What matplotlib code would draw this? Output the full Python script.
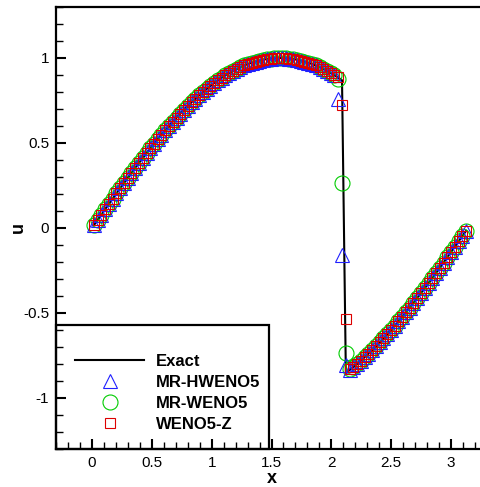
import matplotlib
matplotlib.use('Agg')
import matplotlib.pyplot as plt
from matplotlib.patches import Rectangle
from matplotlib.ticker import MultipleLocator, FuncFormatter

plt.rcParams['font.family'] = ['Liberation Sans', 'DejaVu Sans']
plt.rcParams['axes.unicode_minus'] = False

# cell centres
x = [0.016, 0.047, 0.079, 0.110, 0.141, 0.173, 0.204, 0.236, 0.267, 0.298,
     0.330, 0.361, 0.393, 0.424, 0.456, 0.487, 0.518, 0.550, 0.581, 0.613,
     0.644, 0.675, 0.707, 0.738, 0.770, 0.801, 0.833, 0.864, 0.895, 0.927,
     0.958, 0.990, 1.021, 1.052, 1.084, 1.115, 1.147, 1.178, 1.210, 1.241,
     1.272, 1.304, 1.335, 1.367, 1.398, 1.429, 1.461, 1.492, 1.524, 1.555,
     1.587, 1.618, 1.649, 1.681, 1.712, 1.744, 1.775, 1.806, 1.838, 1.869,
     1.901, 1.932, 1.963, 1.995, 2.026, 2.058, 2.089, 2.121, 2.152, 2.183,
     2.215, 2.246, 2.278, 2.309, 2.341, 2.372, 2.403, 2.435, 2.466, 2.498,
     2.529, 2.560, 2.592, 2.623, 2.655, 2.686, 2.717, 2.749, 2.780, 2.812,
     2.843, 2.874, 2.906, 2.937, 2.969, 3.000, 3.031, 3.063, 3.094, 3.126]

u_exact = [0.016, 0.047, 0.078, 0.110, 0.141, 0.172, 0.203, 0.233, 0.264, 0.294,
           0.324, 0.353, 0.383, 0.412, 0.440, 0.468, 0.495, 0.523, 0.549, 0.575,
           0.600, 0.625, 0.649, 0.673, 0.696, 0.718, 0.740, 0.760, 0.780, 0.800,
           0.818, 0.836, 0.853, 0.869, 0.884, 0.898, 0.911, 0.924, 0.935, 0.946,
           0.956, 0.965, 0.972, 0.979, 0.985, 0.990, 0.994, 0.997, 0.999, 1.000,
           1.000, 0.999, 0.997, 0.994, 0.990, 0.985, 0.979, 0.972, 0.965, 0.956,
           0.946, 0.935, 0.924, 0.911, 0.898, 0.884, 0.869, -0.853, -0.836, -0.818,
           -0.800, -0.780, -0.760, -0.740, -0.718, -0.696, -0.673, -0.649, -0.625, -0.600,
           -0.575, -0.549, -0.523, -0.495, -0.468, -0.440, -0.412, -0.383, -0.353, -0.324,
           -0.294, -0.264, -0.233, -0.203, -0.172, -0.141, -0.110, -0.078, -0.047, -0.016]

u_mrhweno5 = [0.016, 0.047, 0.078, 0.110, 0.141, 0.172, 0.203, 0.233, 0.264, 0.294,
              0.324, 0.353, 0.383, 0.412, 0.440, 0.468, 0.495, 0.523, 0.549, 0.575,
              0.600, 0.625, 0.649, 0.673, 0.696, 0.718, 0.740, 0.760, 0.780, 0.800,
              0.818, 0.836, 0.853, 0.869, 0.884, 0.898, 0.911, 0.924, 0.935, 0.946,
              0.956, 0.965, 0.972, 0.979, 0.985, 0.990, 0.994, 0.997, 0.999, 1.000,
              1.000, 0.999, 0.997, 0.994, 0.990, 0.985, 0.979, 0.972, 0.965, 0.956,
              0.946, 0.935, 0.924, 0.911, 0.898, 0.760, -0.160, -0.806, -0.836, -0.818,
              -0.800, -0.780, -0.760, -0.740, -0.718, -0.696, -0.673, -0.649, -0.625, -0.600,
              -0.575, -0.549, -0.523, -0.495, -0.468, -0.440, -0.412, -0.383, -0.353, -0.324,
              -0.294, -0.264, -0.233, -0.203, -0.172, -0.141, -0.110, -0.078, -0.047, -0.016]

u_mrweno5 = [0.016, 0.047, 0.078, 0.110, 0.141, 0.172, 0.203, 0.233, 0.264, 0.294,
             0.324, 0.353, 0.383, 0.412, 0.440, 0.468, 0.495, 0.523, 0.549, 0.575,
             0.600, 0.625, 0.649, 0.673, 0.696, 0.718, 0.740, 0.760, 0.780, 0.800,
             0.818, 0.836, 0.853, 0.869, 0.884, 0.898, 0.911, 0.924, 0.935, 0.946,
             0.956, 0.965, 0.972, 0.979, 0.985, 0.990, 0.994, 0.997, 0.999, 1.000,
             1.000, 0.999, 0.997, 0.994, 0.990, 0.985, 0.979, 0.972, 0.965, 0.956,
             0.946, 0.935, 0.924, 0.911, 0.898, 0.875, 0.267, -0.737, -0.830, -0.818,
             -0.800, -0.780, -0.760, -0.740, -0.718, -0.696, -0.673, -0.649, -0.625, -0.600,
             -0.575, -0.549, -0.523, -0.495, -0.468, -0.440, -0.412, -0.383, -0.353, -0.324,
             -0.294, -0.264, -0.233, -0.203, -0.172, -0.141, -0.110, -0.078, -0.047, -0.016]

u_weno5z = [0.016, 0.047, 0.078, 0.110, 0.141, 0.172, 0.203, 0.233, 0.264, 0.294,
            0.324, 0.353, 0.383, 0.412, 0.440, 0.468, 0.495, 0.523, 0.549, 0.575,
            0.600, 0.625, 0.649, 0.673, 0.696, 0.718, 0.740, 0.760, 0.780, 0.800,
            0.818, 0.836, 0.853, 0.869, 0.884, 0.898, 0.911, 0.924, 0.935, 0.946,
            0.956, 0.965, 0.972, 0.979, 0.985, 0.990, 0.994, 0.997, 0.999, 1.000,
            1.000, 0.999, 0.997, 0.994, 0.990, 0.985, 0.979, 0.972, 0.965, 0.956,
            0.946, 0.935, 0.924, 0.911, 0.898, 0.890, 0.725, -0.535, -0.832, -0.818,
            -0.800, -0.780, -0.760, -0.740, -0.718, -0.696, -0.673, -0.649, -0.625, -0.600,
            -0.575, -0.549, -0.523, -0.495, -0.468, -0.440, -0.412, -0.383, -0.353, -0.324,
            -0.294, -0.264, -0.233, -0.203, -0.172, -0.141, -0.110, -0.078, -0.047, -0.016]

labels = ['Exact', 'MR-HWENO5', 'MR-WENO5', 'WENO5-Z']

W, H = 480, 487
fig = plt.figure(figsize=(W / 100, H / 100), dpi=100)
ax = fig.add_axes([56 / W, 1 - 449 / H, 431 / W, 442 / H])

l0, = ax.plot(x, u_exact, color='black', lw=1.5, zorder=2, label=labels[0])
l2, = ax.plot(x, u_mrweno5, ls='none', marker='o', ms=10.8, mfc='none',
              mec='#00cc00', mew=0.8, zorder=3, label=labels[2])
l1, = ax.plot(x, u_mrhweno5, ls='none', marker='^', ms=9.6, mfc='none',
              mec='#2020ff', mew=0.8, zorder=4, label=labels[1])
l3, = ax.plot(x, u_weno5z, ls='none', marker='s', ms=7.9, mfc='none',
              mec='#dd0000', mew=0.8, zorder=5, label=labels[3])

ax.set_xlim(-0.3, 3.3)
ax.set_ylim(-1.3, 1.3)
ax.xaxis.set_major_locator(MultipleLocator(0.5))
ax.xaxis.set_minor_locator(MultipleLocator(0.1))
ax.yaxis.set_major_locator(MultipleLocator(0.5))
ax.yaxis.set_minor_locator(MultipleLocator(0.1))
fmt = FuncFormatter(lambda v, p: f'{v:g}')
ax.xaxis.set_major_formatter(fmt)
ax.yaxis.set_major_formatter(fmt)
ax.tick_params(which='both', direction='in', top=False, right=False, labelsize=11, pad=5)
ax.tick_params(which='major', length=7.5, width=1.5)
ax.tick_params(which='minor', length=5, width=1.0)
for sp in ax.spines.values():
    sp.set_linewidth(1.6)

ax.set_xlabel('x', fontsize=13, fontweight='bold', labelpad=0)
ax.set_ylabel('u', fontsize=13, fontweight='bold', labelpad=-2.5)

rect = Rectangle((0, 0), 213 / 431, 124 / 442, transform=ax.transAxes,
                 facecolor='white', edgecolor='black', lw=1.6, zorder=1, clip_on=False)
ax.add_patch(rect)
leg = ax.legend(handles=[l0, l1, l2, l3], labels=labels, loc='center',
                bbox_to_anchor=((168 - 56) / 431, (449 - 393) / 442),
                frameon=False, prop={'weight': 'bold', 'size': 12},
                handlelength=4.13, handletextpad=0.72, labelspacing=0.37,
                numpoints=1, borderpad=0.2)
leg.set_zorder(7)

fig.savefig('out.png', dpi=100)
